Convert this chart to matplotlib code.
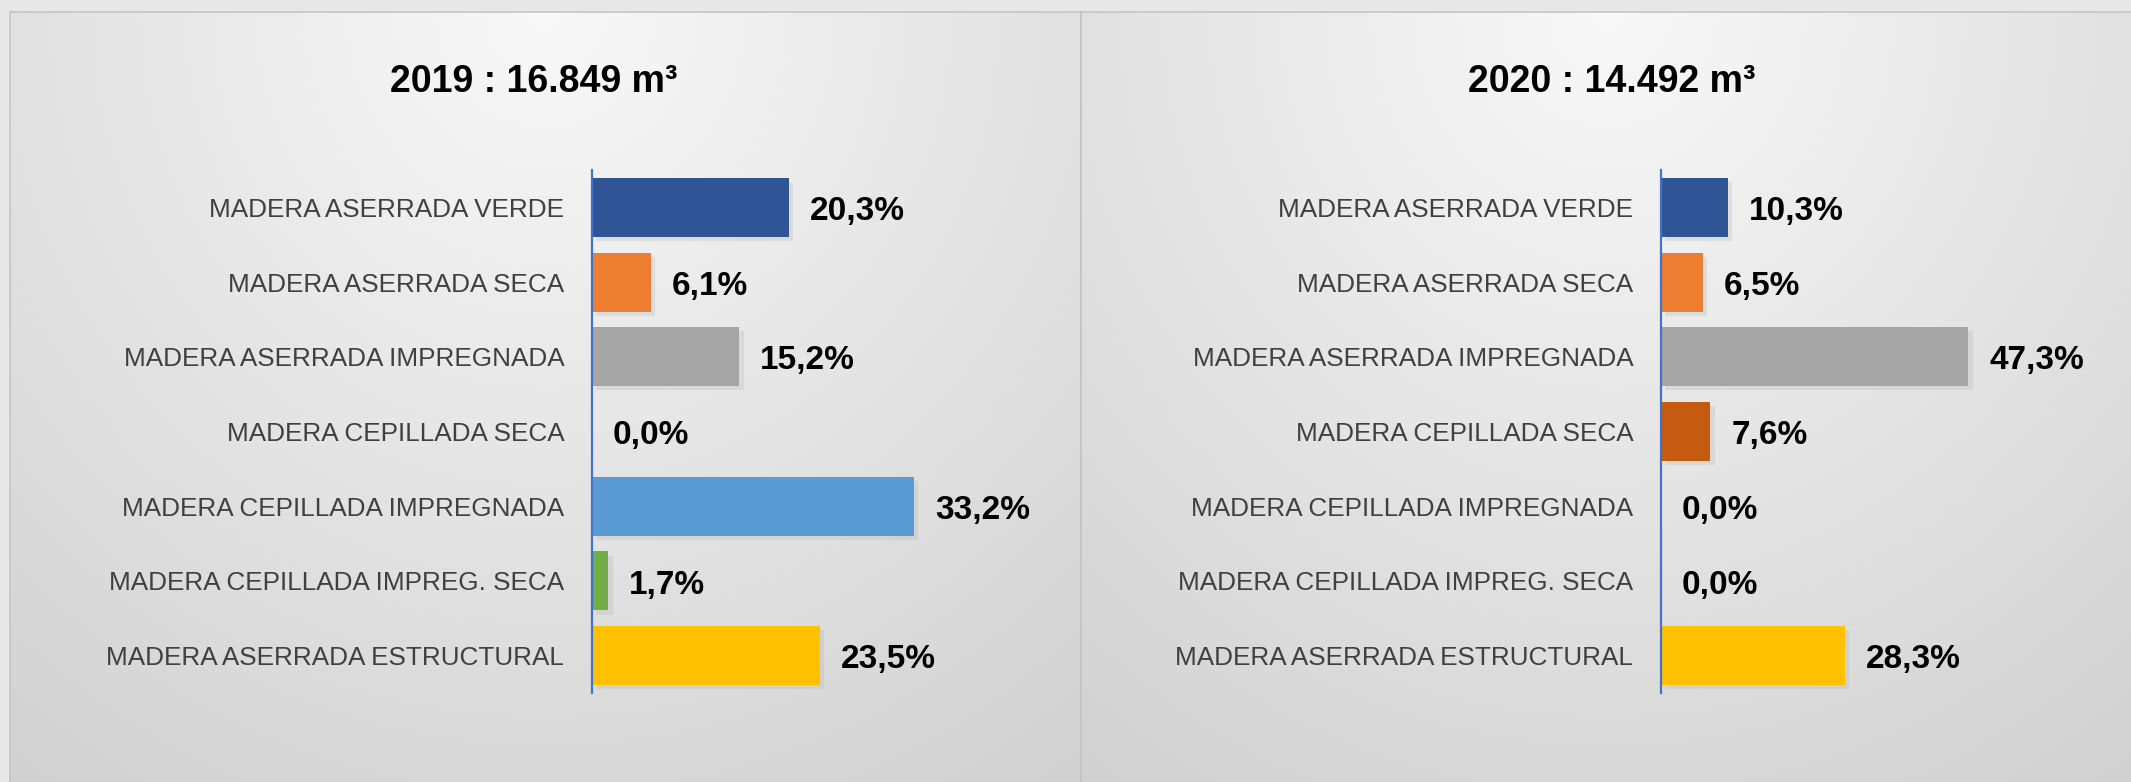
import numpy as np
import matplotlib
matplotlib.use('Agg')
import matplotlib.pyplot as plt
import matplotlib.patheffects as pe

# data
categories = ['MADERA ASERRADA VERDE', 'MADERA ASERRADA SECA',
              'MADERA ASERRADA IMPREGNADA', 'MADERA CEPILLADA SECA',
              'MADERA CEPILLADA IMPREGNADA', 'MADERA CEPILLADA IMPREG. SECA',
              'MADERA ASERRADA ESTRUCTURAL']
values_2019 = [20.3, 6.1, 15.2, 0.0, 33.2, 1.7, 23.5]
values_2020 = [10.3, 6.5, 47.3, 7.6, 0.0, 0.0, 28.3]
titles = ['2019 : 16.849 m³', '2020 : 14.492 m³']
colors = ['#2F5597', '#ED7D31', '#A5A5A5', '#C55A11',
          '#5B9BD5', '#70AD47', '#FFC000']

FONT = ['Liberation Sans', 'DejaVu Sans']
plt.rcParams['font.family'] = FONT

W, H = 2131, 782
fig = plt.figure(figsize=(W / 100, H / 100), dpi=100)
fig.patch.set_facecolor('#e8e8e8')


def px(x0, y0, x1, y1):
    # pixel box (top-left origin) -> figure fraction rect
    return [x0 / W, 1 - y1 / H, (x1 - x0) / W, (y1 - y0) / H]


def panel_bg(box):
    ax = fig.add_axes(px(*box), zorder=0)
    w = box[2] - box[0]
    h = box[3] - box[1]
    xx, yy = np.meshgrid(np.linspace(-1, 1, 400), np.linspace(0, 1, 200))
    r = np.sqrt((xx * 0.9) ** 2 + (yy * 1.25) ** 2)
    v = 0.975 - 0.13 * np.clip(r, 0, 1.6) / 1.6 * 1.25
    v = np.clip(v, 0.79, 0.975)
    img = np.dstack([v, v, v])
    ax.imshow(img, aspect='auto', extent=[0, w, h, 0])
    ax.set_xlim(0, w)
    ax.set_ylim(h, 0)
    ax.set_xticks([])
    ax.set_yticks([])
    for s in ax.spines.values():
        s.set_color('#c4c4c4')
        s.set_linewidth(1.2)


panel_bg((10, 12, 1081, H + 5))
panel_bg((1081, 12, W + 5, H + 5))

panels = [
    (values_2019, titles[0], 592, 45, 9.7, 534),
    (values_2020, titles[1], 1661, 60, 6.5, 1612),
]

y = np.arange(len(categories))
for vals, title, x0, xmax, scale, tx in panels:
    ax = fig.add_axes(px(x0, 170, x0 + xmax * scale, 693), zorder=2)
    ax.patch.set_alpha(0)
    bcols = [colors[i] if vals[i] > 0 else 'none' for i in range(len(vals))]
    bars = ax.barh(y, vals, height=0.79, color=bcols, zorder=3)
    for b in bars:
        b.set_path_effects([pe.SimplePatchShadow(offset=(3, -3), shadow_rgbFace='#b8b8b8', alpha=0.3), pe.Normal()])
    ax.set_ylim(6.5, -0.5)
    ax.set_xlim(0, xmax)
    ax.set_yticks(y)
    ax.set_yticklabels(categories, fontsize=18.8, color='#404040', family=FONT)
    ax.tick_params(axis='y', length=0, pad=20)
    ax.set_xticks([])
    for s in ['top', 'right', 'bottom']:
        ax.spines[s].set_visible(False)
    ax.spines['left'].set_color('#4472C4')
    ax.spines['left'].set_linewidth(1.6)
    ax.spines['left'].set_zorder(5)
    for i, v in enumerate(vals):
        ax.annotate(('%.1f%%' % v).replace('.', ','), xy=(v, i), xytext=(15, -3),
                    textcoords='offset points', ha='left', va='center',
                    fontsize=24, fontweight='bold', color='black', family=FONT)
    fig.text(tx / W, 1 - 82 / H, title, ha='center', va='center',
             fontsize=27, fontweight='bold', color='black', family=FONT)

fig.savefig('out.png', dpi=100, facecolor=fig.get_facecolor())
